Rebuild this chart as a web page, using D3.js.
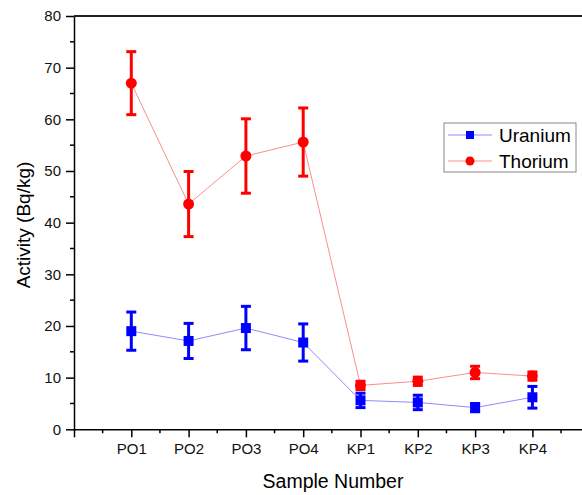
<!DOCTYPE html>
<html>
<head>
<meta charset="utf-8">
<script src="https://cdn.jsdelivr.net/npm/d3@7"></script>
<style>
  body { margin: 0; background: #fff; }
  svg { display: block; font-family: "Liberation Sans", Arial, sans-serif; }
</style>
</head>
<body>
<div id="chart"></div>
<script>
// sample names along the x axis
var samples = ["PO1", "PO2", "PO3", "PO4", "KP1", "KP2", "KP3", "KP4"];

// activity values (Bq/kg)
var uranium = [19.0, 17.1, 19.6, 16.8, 5.6, 5.2, 4.2, 6.2];
var uraniumErr = [3.7, 3.4, 4.2, 3.6, 1.4, 1.4, 0.8, 2.1];
var thorium = [67.0, 43.6, 52.9, 55.6, 8.5, 9.3, 11.0, 10.3];
var thoriumErr = [6.1, 6.3, 7.2, 6.6, 0.8, 0.8, 1.2, 0.8];

var yTicks = [0, 10, 20, 30, 40, 50, 60, 70, 80];

var width = 582, height = 495;
var margin = {top: 16, left: 74, bottom: 66};

var svg = d3.select("#chart").append("svg")
    .attr("width", width)
    .attr("height", height);

// x positions: index 0 is the empty slot at the axis origin
var x = d3.scaleLinear().domain([0, 9]).range([margin.left, margin.left + 57.3 * 9]);
var y = d3.scaleLinear().domain([0, 80]).range([height - margin.bottom + 0.3, margin.top]);

// y axis
var yAxis = d3.axisLeft(y).tickValues(yTicks).tickSize(8).tickSizeOuter(0).tickPadding(5);
var gy = svg.append("g").attr("transform", "translate(" + margin.left + ",0)").call(yAxis);
gy.select(".domain").attr("stroke", "#000").attr("stroke-width", 1.5);
gy.selectAll(".tick line").attr("stroke-width", 1.5);
gy.selectAll("text").style("font-size", "15px").attr("fill", "#111");
// minor y ticks
svg.append("g").selectAll("line")
    .data(d3.range(5, 80, 10))
    .enter().append("line")
    .attr("x1", margin.left - 4).attr("x2", margin.left)
    .attr("y1", function(d) { return y(d); }).attr("y2", function(d) { return y(d); })
    .attr("stroke", "#000").attr("stroke-width", 1.5);

// x axis
var xAxis = d3.axisBottom(x).tickValues(d3.range(0, 10)).tickSize(8).tickSizeOuter(0).tickPadding(6)
    .tickFormat(function(d) { return d >= 1 && d <= 8 ? samples[d - 1] : ""; });
var gx = svg.append("g").attr("transform", "translate(0," + y(0) + ")").call(xAxis);
gx.select(".domain").attr("stroke", "#000").attr("stroke-width", 1.5);
gx.selectAll(".tick line").attr("stroke-width", 1.5);
gx.selectAll("text").style("font-size", "15px").attr("fill", "#111");
// minor x ticks
svg.append("g").selectAll("line")
    .data(d3.range(0.5, 9, 1))
    .enter().append("line")
    .attr("x1", function(d) { return x(d); }).attr("x2", function(d) { return x(d); })
    .attr("y1", y(0)).attr("y2", y(0) + 4)
    .attr("stroke", "#000").attr("stroke-width", 1.5);

// top frame line
svg.append("line")
    .attr("x1", margin.left).attr("x2", x(9))
    .attr("y1", y(80)).attr("y2", y(80))
    .attr("stroke", "#222").attr("stroke-width", 2);

// axis titles
svg.append("text")
    .attr("x", 333).attr("y", 488)
    .attr("text-anchor", "middle")
    .style("font-size", "19.5px")
    .text("Sample Number");
svg.append("text")
    .attr("transform", "translate(30,225) rotate(-90)")
    .attr("text-anchor", "middle")
    .style("font-size", "19px")
    .text("Activity (Bq/kg)");

var series = [
  {name: "Uranium", values: uranium, err: uraniumErr, color: "#0000ff", line: "#8c8cff", shape: "square"},
  {name: "Thorium", values: thorium, err: thoriumErr, color: "#ff0000", line: "#ff8c8c", shape: "circle"}
];

function drawMarker(g, shape, color) {
  if (shape === "square") {
    g.append("rect").attr("x", -5).attr("y", -5).attr("width", 10).attr("height", 10).attr("fill", color);
  } else {
    g.append("circle").attr("r", 5.5).attr("fill", color);
  }
}

var line = d3.line()
    .x(function(d, i) { return x(i + 1); })
    .y(function(d) { return y(d); });

series.forEach(function(s) {
  var g = svg.append("g");
  g.append("path")
      .datum(s.values)
      .attr("d", line)
      .attr("fill", "none")
      .attr("stroke", s.line)
      .attr("stroke-width", 1);

  var bars = g.selectAll(".err")
      .data(s.values)
      .enter().append("g");
  bars.append("line")
      .attr("x1", function(d, i) { return x(i + 1); })
      .attr("x2", function(d, i) { return x(i + 1); })
      .attr("y1", function(d, i) { return y(d + s.err[i]); })
      .attr("y2", function(d, i) { return y(d - s.err[i]); })
      .attr("stroke", s.color).attr("stroke-width", 3);
  [1, -1].forEach(function(sign) {
    bars.append("line")
        .attr("x1", function(d, i) { return x(i + 1) - 5; })
        .attr("x2", function(d, i) { return x(i + 1) + 5; })
        .attr("y1", function(d, i) { return y(d + sign * s.err[i]); })
        .attr("y2", function(d, i) { return y(d + sign * s.err[i]); })
        .attr("stroke", s.color).attr("stroke-width", 3);
  });

  s.values.forEach(function(d, i) {
    var m = g.append("g").attr("transform", "translate(" + x(i + 1) + "," + y(d) + ")");
    drawMarker(m, s.shape, s.color);
  });
});

// legend
var legend = svg.append("g").attr("transform", "translate(444,123)");
legend.append("rect")
    .attr("width", 132).attr("height", 49)
    .attr("fill", "#fff").attr("stroke", "#888").attr("stroke-width", 1);
series.forEach(function(s, i) {
  var row = legend.append("g").attr("transform", "translate(0," + (12 + i * 26) + ")");
  row.append("line").attr("x1", 4).attr("x2", 48).attr("stroke", s.line).attr("stroke-width", 1);
  var m = row.append("g").attr("transform", "translate(26,0)");
  if (s.shape === "square") {
    m.append("rect").attr("x", -4).attr("y", -4).attr("width", 8).attr("height", 8).attr("fill", s.color);
  } else {
    m.append("circle").attr("r", 4.5).attr("fill", s.color);
  }
  row.append("text")
      .attr("x", 55).attr("y", 7)
      .style("font-size", "19px")
      .text(s.name);
});
</script>
</body>
</html>
